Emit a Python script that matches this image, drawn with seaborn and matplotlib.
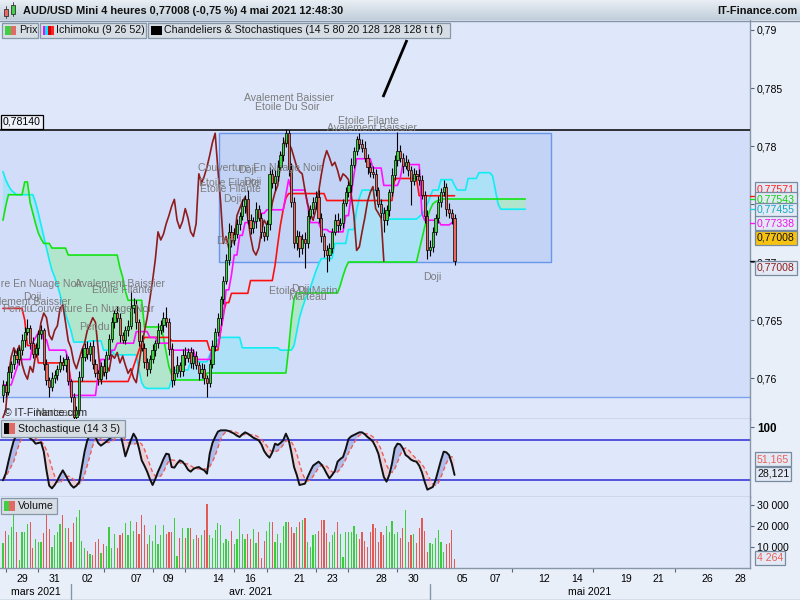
import numpy as np
import pandas as pd
import matplotlib
matplotlib.use("Agg")
import matplotlib.pyplot as plt
from matplotlib.patches import Rectangle
from matplotlib.colors import LinearSegmentedColormap
import seaborn as sns

# ---------------- data ----------------
first_candle_time = "2021-03-25 20:00"
first_open = 0.7585
closes = [0.7594, 0.7588, 0.7605, 0.7612, 0.7620, 0.7616, 0.7624, 0.7633, 0.7640, 0.7643,
          0.7630, 0.7621, 0.7626, 0.7638, 0.7641, 0.7612, 0.7598, 0.7592, 0.7600, 0.7603,
          0.7608, 0.7614, 0.7611, 0.7616, 0.7597, 0.7584, 0.7566, 0.7572, 0.7601, 0.7618,
          0.7626, 0.7621, 0.7628, 0.7612, 0.7604, 0.7599, 0.7610, 0.7605, 0.7620, 0.7634,
          0.7648, 0.7656, 0.7652, 0.7637, 0.7633, 0.7641, 0.7645, 0.7660, 0.7663, 0.7648,
          0.7632, 0.7626, 0.7614, 0.7608, 0.7616, 0.7624, 0.7630, 0.7641, 0.7646, 0.7652,
          0.7648, 0.7625, 0.7598, 0.7604, 0.7611, 0.7606, 0.7620, 0.7617, 0.7622, 0.7613,
          0.7619, 0.7611, 0.7604, 0.7608, 0.7600, 0.7596, 0.7612, 0.7628, 0.7640, 0.7652,
          0.7668, 0.7684, 0.7702, 0.7726, 0.7719, 0.7724, 0.7733, 0.7740, 0.7748, 0.7754,
          0.7736, 0.7729, 0.7735, 0.7746, 0.7738, 0.7726, 0.7722, 0.7733, 0.7776, 0.7768,
          0.7774, 0.7782, 0.7792, 0.7803, 0.7811, 0.7780, 0.7752, 0.7716, 0.7722, 0.7712,
          0.7720, 0.7716, 0.7740, 0.7746, 0.7752, 0.7756, 0.7738, 0.7722, 0.7710, 0.7706,
          0.7712, 0.7726, 0.7736, 0.7732, 0.7734, 0.7751, 0.7760, 0.7766, 0.7784, 0.7796,
          0.7806, 0.7802, 0.7798, 0.7790, 0.7782, 0.7778, 0.7776, 0.7762, 0.7750, 0.7742,
          0.7736, 0.7745, 0.7760, 0.7775, 0.7788, 0.7796, 0.7790, 0.7783, 0.7786, 0.7779,
          0.7770, 0.7776, 0.7774, 0.7771, 0.7758, 0.7740, 0.7710, 0.7713, 0.7726, 0.7738,
          0.7752, 0.7760, 0.7765, 0.7746, 0.7742, 0.7738, 0.77008]
upper_wick_pips = [4, 3, 5, 3, 4, 6, 3, 5, 4, 8, 3, 5, 4, 3, 5, 2, 4, 3, 5, 4,
                   3, 6, 4, 5, 3, 2, 3, 4, 5, 8, 4, 6, 3, 5, 4, 3, 4, 6, 3, 4,
                   5, 3, 6, 4, 3, 4, 5, 15, 6, 4, 3, 5, 4, 3, 4, 5, 3, 6, 4, 5,
                   9, 4, 5, 6, 8, 3, 5, 7, 4, 5, 6, 4, 3, 5, 4, 3, 4, 5, 3, 4,
                   3, 4, 5, 8, 6, 5, 4, 3, 6, 4, 8, 5, 4, 6, 3, 4, 5, 3, 6, 4,
                   5, 6, 4, 5, 4, 3, 5, 4, 6, 5, 4, 6, 5, 3, 4, 5, 6, 4, 3, 5,
                   4, 3, 5, 6, 4, 3, 5, 4, 6, 3, 3, 5, 4, 6, 3, 4, 5, 4, 3, 4,
                   5, 4, 3, 6, 4, 16, 5, 4, 6, 3, 4, 5, 3, 6, 4, 3, 5, 6, 4, 3,
                   5, 4, 6, 3, 5, 4, 3]
lower_wick_pips = [6, 4, 3, 5, 4, 3, 5, 4, 6, 3, 5, 4, 3, 6, 4, 5, 4, 8, 3, 4,
                   5, 3, 4, 6, 3, 5, 4, 6, 3, 4, 3, 5, 6, 4, 3, 5, 4, 3, 6, 4,
                   3, 5, 4, 6, 3, 4, 5, 3, 4, 6, 4, 3, 5, 6, 4, 3, 5, 4, 3, 6,
                   4, 5, 6, 4, 3, 5, 4, 6, 3, 4, 5, 3, 6, 4, 5, 12, 4, 3, 5, 4,
                   6, 4, 3, 5, 6, 4, 3, 5, 4, 6, 3, 5, 4, 6, 3, 5, 4, 3, 5, 4,
                   6, 4, 3, 5, 4, 6, 5, 4, 6, 8, 5, 21, 4, 3, 5, 6, 4, 5, 6, 15,
                   5, 4, 3, 6, 4, 5, 3, 4, 6, 3, 4, 5, 3, 4, 6, 5, 4, 5, 3, 4,
                   10, 4, 5, 3, 4, 5, 4, 6, 3, 5, 21, 4, 3, 5, 4, 6, 7, 5, 4, 3,
                   4, 5, 3, 6, 4, 5, 3]
volumes = [11800, 17600, 15700, 19700, 25300, 17000, 3800, 17000, 17000, 20800,
           22100, 9400, 13800, 12600, 12600, 16500, 25300, 18400, 10200, 15700,
           17300, 20800, 25300, 18900, 18900, 12600, 21300, 24500, 27700, 12900,
           9700, 8100, 6500, 6200, 12600, 13800, 7000, 11300, 10600, 19700,
           9400, 16100, 9400, 15700, 16500, 21300, 15700, 22400, 17600, 22100,
           16100, 25000, 20500, 11300, 15700, 12900, 20500, 11300, 15700, 20500,
           16100, 17000, 17000, 23700, 5900, 14200, 18900, 14500, 18900, 18900,
           13800, 15700, 14500, 15700, 18100, 30400, 15700, 14200, 18100, 21300,
           20500, 11800, 13800, 12900, 17600, 11300, 13800, 23400, 16100, 13800,
           16100, 13800, 18600, 11800, 17300, 4900, 12900, 17600, 22100, 21800,
           12600, 16100, 11800, 20200, 22100, 21800, 19700, 16500, 19700, 22100,
           22900, 24000, 12600, 10200, 15700, 16100, 17600, 22900, 22900, 16500,
           12200, 15700, 17000, 22100, 16100, 5400, 17300, 17300, 17300, 20200,
           16100, 13800, 17300, 12900, 10200, 17300, 20800, 18900, 12600, 17300,
           15700, 20200, 17300, 22400, 16100, 17300, 14200, 19200, 27700, 12600,
           15700, 16100, 11800, 19200, 24000, 17600, 7800, 11800, 11400, 14200,
           18100, 12600, 7800, 11400, 11800, 18100, 4264]
stoch_k = [20, 30, 48, 65, 80, 88, 92, 93, 91, 87, 83, 80, 75, 76, 77, 63, 35, 12, 8, 13,
           20, 28, 35, 28, 20, 13, 9, 12, 17, 40, 63, 80, 88, 90, 85, 76, 72, 75, 78, 82,
           85, 88, 92, 93, 75, 56, 68, 80, 90, 83, 68, 50, 42, 33, 22, 13, 22, 33, 42, 52,
           60, 59, 40, 39, 45, 50, 48, 43, 36, 33, 37, 39, 40, 37, 35, 30, 60, 76, 85, 93,
           95, 95, 95, 94, 92, 90, 87, 85, 89, 92, 90, 87, 84, 82, 80, 74, 64, 58, 54, 62,
           75, 73, 76, 80, 90, 81, 62, 40, 28, 13, 14, 15, 25, 34, 42, 45, 48, 44, 38, 30,
           23, 28, 34, 48, 52, 55, 67, 82, 86, 88, 90, 92, 92, 89, 85, 82, 78, 70, 60, 42,
           25, 18, 28, 45, 68, 75, 74, 68, 58, 55, 51, 49, 48, 42, 32, 18, 6, 8, 10, 20,
           35, 50, 63, 62, 57.704, 45, 28.121]
tenkan = ([0.7594] * 4 + [0.7601, 0.7608, 0.7615] + [0.7616] * 4 + [0.7631, 0.7635] + [0.7639] * 2
          + [0.7633] * 2 + [0.7624] * 7 + [0.7616] + [0.7585] * 10 + [0.7603] + [0.7616] * 4
          + [0.7624] * 2 + [0.7630] * 7 + [0.7640] * 5 + [0.7635] * 3 + [0.7630] * 5 + [0.7624] * 9
          + [0.7616] * 6 + [0.7627] * 3 + [0.7641, 0.7653] + [0.7676] * 2 + [0.7689] + [0.7706] * 2
          + [0.7723] * 2 + [0.7734] * 5 + [0.7742] * 3 + [0.7745] * 7 + [0.7758, 0.7771]
          + [0.7762] * 6 + [0.7749] + [0.7734] * 4 + [0.7728] * 3 + [0.7726] * 6 + [0.7740] * 2
          + [0.7758, 0.7775] + [0.7789] * 6 + [0.7781] * 4 + [0.7766] * 6 + [0.7772] + [0.7784] * 7
          + [0.7742] + [0.7736] * 6 + [0.7732] * 4 + [0.77338] * 2)
kijun = ([0.7660] * 8 + [0.7650] + [0.7628] * 4 + [0.7613] * 12 + [0.7597] * 22
         + [0.7603, 0.7610, 0.7617, 0.7624, 0.7630] + [0.7635] * 10 + [0.7632] * 14 + [0.7624] * 4
         + [0.7640, 0.7655] + [0.7665] * 2 + [0.7673] * 7 + [0.7684] * 9
         + [0.7697, 0.7715, 0.7732, 0.7745, 0.7755] + [0.7759] * 14 + [0.7753] * 25
         + [0.7772] * 9 + [0.77571] * 14)
span_a = ([0.7778, 0.7771, 0.7766, 0.7762, 0.7760] + [0.7758] * 7
          + [0.7751, 0.7742, 0.7732, 0.7722, 0.7712, 0.7702, 0.7693, 0.7687]
          + [0.7680, 0.7672, 0.7663, 0.7655, 0.7648, 0.7641] + [0.7631] * 6 + [0.7632] * 5
          + [0.7624] * 4 + [0.7620] * 9 + [0.7607, 0.7596, 0.7592] + [0.7591] * 9 + [0.7598, 0.7606]
          + [0.7607] * 5 + [0.7614] * 7 + [0.7620, 0.7625, 0.7630, 0.7633, 0.7635] + [0.7635] * 7
          + [0.7626] * 14 + [0.7624] * 5
          + [0.7628, 0.7640, 0.7652, 0.7660, 0.7667, 0.7673, 0.7678, 0.7685, 0.7692, 0.7698, 0.7703]
          + [0.7703] * 4 + [0.7716] * 5 + [0.7728] * 3 + [0.7745, 0.7755] + [0.7762] * 6
          + [0.7758, 0.7750, 0.7742] + [0.7737] * 12 + [0.7739, 0.7741, 0.7744, 0.7750, 0.7756]
          + [0.7762] * 3 + [0.7771] * 5 + [0.7766, 0.7762] + [0.7762] * 3 + [0.7772] * 4
          + [0.7777] * 5 + [0.7774, 0.7762, 0.7750] + [0.77455] * 10)
span_b = ([0.7736, 0.7748] + [0.7758] * 6 + [0.7769] * 2 + [0.7751, 0.7742, 0.7733, 0.7725, 0.7720]
          + [0.7716] * 3 + [0.7712] * 6 + [0.7706] * 19 + [0.7695, 0.7687, 0.7675] + [0.7667] * 6
          + [0.7644] * 7 + [0.7635, 0.7622, 0.7610, 0.7603, 0.7599] + [0.75983] * 11
          + [0.76043] * 30 + [0.7625, 0.7650, 0.7668] + [0.76733] * 16
          + [0.7680, 0.7688, 0.7695, 0.7700] + [0.7700] * 25
          + [0.7710, 0.7720, 0.7730, 0.7738, 0.7745, 0.7750, 0.7752, 0.7753] + [0.77543] * 32)

level_price = 0.78140
zone_low = 0.75836
range_box_slots = [79.5, 201.5]
range_box_prices = [0.77000, 0.78112]
trend_slots = [139.7, 148.5]
trend_prices = [0.78422, 0.78914]

label_days = ['2021-03-29', '2021-03-31', '2021-04-02', '2021-04-07', '2021-04-09', '2021-04-14',
              '2021-04-16', '2021-04-21', '2021-04-23', '2021-04-28', '2021-04-30', '2021-05-05',
              '2021-05-07', '2021-05-12', '2021-05-14', '2021-05-19', '2021-05-21', '2021-05-26',
              '2021-05-28']
tick_days = ['2021-03-26', '2021-03-30', '2021-04-05', '2021-04-08', '2021-04-12', '2021-04-15',
             '2021-04-19', '2021-04-22', '2021-04-26', '2021-04-29', '2021-05-10', '2021-05-17',
             '2021-05-24']
month_starts = ['2021-04-01', '2021-05-03']
month_names = ['mars 2021', 'avr. 2021', 'mai 2021']

patterns = [("Avalement Baissier", 105.2, 0.78414), ("Etoile Du Soir", 104.4, 0.78336),
            ("Etoile Filante", 134.2, 0.78216), ("Avalement Baissier", 135.7, 0.78155),
            ("Couverture En Nuage Noir", 94.5, 0.77810), ("Doji", 89.7, 0.77793),
            ("Etoile Filante", 83.1, 0.77681), ("Doji", 91.6, 0.77690),
            ("Etoile Filante", 83.5, 0.77629), ("Doji", 84.2, 0.77543),
            ("Doji", 81.6, 0.77181), ("Doji", 157.7, 0.76871),
            ("Etoile DuMatin", 110.3, 0.76750), ("Doji", 109.2, 0.76767),
            ("Marteau", 111.8, 0.76698), ("Couverture En Nuage Noir", 6.3, 0.76810),
            ("Avalement Baissier", 43.0, 0.76810), ("Etoile Filante", 44.1, 0.76759),
            ("Doji", 10.7, 0.76698), ("Avalement Baissier", 8.5, 0.76655),
            ("Pendu", 5.2, 0.76595), ("Couverture En Nuage Noir", 32.7, 0.76595),
            ("Pendu", 33.5, 0.76440), ("Marteau", 19.1, 0.75698)]

title = "AUD/USD Mini 4 heures 0,77008 (-0,75 %) 4 mai 2021 12:48:30"

# ---------------- setup ----------------
sns.set_theme(style="white")
plt.rcParams['font.family'] = ['Liberation Sans', 'DejaVu Sans']

W, H = 800, 600
PANEL_R = 750
X0, X1 = -1.088, 274.6
P_TOP, P_BOT = 0.790862, 0.756466
FS = 7.6

trading_days = pd.bdate_range('2021-03-25', '2021-06-04')
slots = [d + pd.Timedelta(hours=4 * k) for d in trading_days for k in range(6)]
slots = [s for s in slots if s >= pd.Timestamp(first_candle_time)]


def day_slot(day):
    return slots.index(pd.Timestamp(day))


def slot_px(s):
    return (s - X0) / (X1 - X0) * PANEL_R


def price_py(p):
    return 20 + (P_TOP - p) / (P_TOP - P_BOT) * 399


def axrect(x0, y0, x1, y1):
    return [x0 / W, 1 - y1 / H, (x1 - x0) / W, (y1 - y0) / H]


n = len(closes)
idx = np.arange(n)
c = np.array(closes)
o = np.array([first_open] + closes[:-1])
hi = np.maximum(o, c) + np.array(upper_wick_pips) * 1e-4
lo = np.minimum(o, c) - np.array(lower_wick_pips) * 1e-4
up = c >= o
GREEN, RED = '#3fd43f', '#e8685c'

fig = plt.figure(figsize=(8, 6), dpi=100)
fig.patch.set_facecolor('#e9eff9')
ax = fig.add_axes(axrect(0, 20, PANEL_R, 419))
axs = fig.add_axes(axrect(0, 419, PANEL_R, 497), sharex=ax)
axv = fig.add_axes(axrect(0, 497, PANEL_R, 568), sharex=ax)

for a in (ax, axs, axv):
    a.set_facecolor('#dfe8fb')
    for side in ('top', 'left'):
        a.spines[side].set_visible(False)
    for side in ('right', 'bottom'):
        a.spines[side].set_color('#8797a8')
        a.spines[side].set_linewidth(1)
    a.yaxis.tick_right()
    a.tick_params(axis='y', length=3, width=0.8, color='#55677a', pad=2, labelsize=FS, labelcolor='black')
    a.grid(False)

# ---------------- main panel ----------------
ax.set_xlim(X0, X1)
ax.set_ylim(P_BOT, P_TOP)
ax.add_patch(Rectangle((X0, zone_low), X1 - X0, level_price - zone_low, fc='#d1ddf9', ec='none', zorder=0.5))
ax.axhline(zone_low, color='#7ea3ec', lw=1, zorder=0.6)
ax.add_patch(Rectangle((range_box_slots[0], range_box_prices[0]), range_box_slots[1] - range_box_slots[0],
                       range_box_prices[1] - range_box_prices[0], fc='#c3d3f6', ec='#6a96ea', lw=1, zorder=0.7))

A = np.array(span_a)
B = np.array(span_b)
ia = np.arange(len(A))
ax.fill_between(ia, A, B, where=A >= B, interpolate=True, color='#ade1f7', lw=0, zorder=1)
ax.fill_between(ia, A, B, where=B > A, interpolate=True, color='#b2e6cc', lw=0, zorder=1)

sns.lineplot(x=ia, y=A, ax=ax, color='#10eef4', lw=1.2, zorder=2)
sns.lineplot(x=ia, y=B, ax=ax, color='#12e412', lw=1.2, zorder=2)
sns.lineplot(x=idx, y=np.array(kijun), ax=ax, color='#ff1010', lw=1.2, zorder=2.2)
sns.lineplot(x=idx, y=np.array(tenkan), ax=ax, color='#ff10ff', lw=1.2, zorder=2.3)
chikou = c[26:]
sns.lineplot(x=np.arange(len(chikou)), y=chikou, ax=ax, color='#8e1c1c', lw=1.2, zorder=2.4)

ax.axhline(level_price, color='black', lw=1.1, zorder=3)
ax.plot(trend_slots, trend_prices, color='black', lw=2, zorder=3, solid_capstyle='butt')

ax.vlines(idx, lo, hi, color='black', lw=0.8, zorder=4)
body = np.maximum(np.abs(c - o), 0.00002)
ax.bar(idx, body, bottom=np.minimum(o, c), width=0.8, color=np.where(up, GREEN, RED),
       edgecolor='black', linewidth=0.5, zorder=5)

for txt, s, p in patterns:
    ax.text(s, p, txt, ha='center', va='center', color='#7c7c7c', fontsize=7.6, zorder=6, clip_on=True)
ax.text(0.2, 0.75698, "\u00a9 IT-Finance.com", ha='left', va='center', color='#2a2a2a',
        fontsize=7.6, zorder=6)

ax.set_yticks([0.76, 0.765, 0.77, 0.775, 0.78, 0.785, 0.79])
ax.set_yticklabels(['0,76', '0,765', '0,77', '0,775', '0,78', '0,785', '0,79'])
ax.tick_params(axis='x', length=0, labelbottom=False, which='both')
ax.set_xlabel('')
ax.set_ylabel('')

# ---------------- stochastic ----------------
K = pd.Series(stoch_k, dtype=float)
D = K.rolling(5, min_periods=1).mean()
axs.set_ylim(-5, 112)
axs.fill_between(idx, K, D, where=K >= D, interpolate=True, color='#b1bbe9', lw=0, zorder=1)
axs.fill_between(idx, K, D, where=K < D, interpolate=True, color='#ebd0da', lw=0, zorder=1)
axs.axhline(80, color='#2a2ad6', lw=1.1, zorder=1.5)
axs.axhline(20, color='#2a2ad6', lw=1.1, zorder=1.5)
sns.lineplot(x=idx, y=D.values, ax=axs, color='#e8605a', lw=1.0, zorder=2)
axs.lines[-1].set_dashes([3, 2])
sns.lineplot(x=idx, y=K.values, ax=axs, color='#111111', lw=1.4, zorder=3)
axs.set_yticks([100])
axs.set_yticklabels(['100'])
for t in axs.get_yticklabels():
    t.set_fontweight('bold')
    t.set_fontsize(8.4)
axs.tick_params(axis='x', length=0, labelbottom=False, which='both')
axs.set_xlabel('')
axs.set_ylabel('')

# ---------------- volume ----------------
axv.set_ylim(0, 33800)
axv.bar(idx, volumes, width=0.45, color=np.where(up, '#3ccc3c', '#e25a52'), lw=0, zorder=2)
axv.set_yticks([10000, 20000, 30000])
axv.set_yticklabels(['10 000', '20 000', '30 000'])
axv.set_xlim(X0, X1)
major = [day_slot(d) for d in label_days]
axv.set_xticks(major)
axv.set_xticklabels([pd.Timestamp(d).strftime('%d') for d in label_days])
axv.set_xticks([day_slot(d) for d in tick_days], minor=True)
axv.tick_params(axis='x', which='major', length=0, pad=4.5, labelsize=FS, labelcolor='black')
axv.tick_params(axis='x', which='minor', length=3, width=0.8, color='#55677a', bottom=True)
axv.set_xlabel('')
axv.set_ylabel('')

# ---------------- overlay (header, legend, value boxes) ----------------
ov = fig.add_axes([0, 0, 1, 1], zorder=10)
ov.patch.set_alpha(0)
ov.axis('off')
grad = LinearSegmentedColormap.from_list('hdr', ['#e8eef4', '#c2cfdb'])
ov.imshow(np.linspace(0, 1, 20).reshape(-1, 1), extent=(0, W, 20, 0), cmap=grad, aspect='auto', zorder=1)
ov.set_xlim(0, W)
ov.set_ylim(H, 0)
ov.plot([0, W], [20.5, 20.5], color='#8595a6', lw=1, zorder=2)
# header icon
ov.add_patch(Rectangle((4, 9), 4, 7, fc='#e86a60', ec='#333333', lw=0.6, zorder=3))
ov.plot([6, 6], [6, 18], color='#333333', lw=0.6, zorder=2.9)
ov.add_patch(Rectangle((11, 5), 4, 9, fc='#44d044', ec='#333333', lw=0.6, zorder=3))
ov.plot([13, 13], [2, 16], color='#333333', lw=0.6, zorder=2.9)
ov.text(23, 11, title, fontsize=7.9, fontweight='bold', va='center', ha='left', color='#111111', zorder=3)
ov.text(797, 11, "IT-Finance.com", fontsize=7.9, fontweight='bold', va='center', ha='right',
        color='#111111', zorder=3)


def legend_box(x0, x1, y0, y1, swatch, text):
    ov.add_patch(Rectangle((x0, y0), x1 - x0, y1 - y0, fc='#d6dde4', ec='#8797a8', lw=0.9, zorder=3))
    sw = len(swatch)
    wsw = 11.0 / sw
    for k, col in enumerate(swatch):
        ov.add_patch(Rectangle((x0 + 3 + k * wsw, y0 + 3), wsw, (y1 - y0) - 6, fc=col, ec='none', zorder=4))
    ov.text(x0 + 17, (y0 + y1) / 2, text, fontsize=7.7, va='center', ha='left', color='#111111', zorder=4)


legend_box(2, 38, 22.5, 37.5, ['#44cc44', '#e06a66'], "Prix")
legend_box(39.5, 146, 22.5, 37.5, ['#ff00ff', '#00e8ff', '#d00000', '#ff2020'], "Ichimoku (9 26 52)")
legend_box(147.5, 450, 22.5, 37.5, ['#000000'], "Chandeliers & Stochastiques (14 5 80 20 128 128 128 t t f)")
legend_box(0.5, 125, 420, 437, ['#000000', '#e06a66'], "Stochastique (14 3 5)")
legend_box(0.5, 57, 498, 514, ['#44cc44', '#e06a66'], "Volume")

# level tag on the left
ov.text(3, price_py(level_price) - 8, f"{level_price:.5f}".replace('.', ','), fontsize=FS, va='center',
        ha='left', color='black', zorder=5,
        bbox=dict(boxstyle='square,pad=0.2', fc='#eef2fa', ec='black', lw=0.9))


def fmt(v, nd=5):
    return f"{v:.{nd}f}".replace('.', ',')


def vbox(y, text, color, fc='#e4eaf5'):
    ov.text(757, y, text, fontsize=FS, va='center', ha='left', color=color, zorder=20,
            bbox=dict(boxstyle='square,pad=0.2', fc=fc, ec='#768aa0', lw=0.9))


# little coloured dashes on the price axis
for val, col in [(kijun[-1], '#ff1010'), (span_b[-1], '#12e412'), (span_a[-1], '#10d8e8'),
                 (tenkan[-1], '#ff10ff'), (closes[-1], '#111111')]:
    yy = price_py(val)
    ov.plot([750, 755], [yy, yy], color=col, lw=1, zorder=15)

vbox(189, fmt(kijun[-1]), '#ff2020')
vbox(199, fmt(span_b[-1]), '#10d010')
vbox(210, fmt(span_a[-1]), '#10a8c0')
vbox(223, fmt(tenkan[-1]), '#ee10ee')
vbox(238, fmt(closes[-1]), '#111111', fc='#f7c313')
vbox(268, fmt(closes[-1]), '#8e1c1c')
vbox(459, fmt(D.iloc[-1], 3), '#e8605a')
vbox(474, fmt(K.iloc[-1], 3), '#111111')
vbox(558, f"{volumes[-1]:,}".replace(',', ' '), '#e8605a')

# month row
seps = [slot_px(day_slot(d)) for d in month_starts]
bounds = [0] + seps + [PANEL_R]
for k, name in enumerate(month_names):
    ov.text((bounds[k] + bounds[k + 1]) / 2, 592, name, fontsize=FS, ha='center', va='center',
            color='black', zorder=5)
for sx in seps:
    ov.plot([sx, sx], [584, 599], color='#8595a6', lw=1, zorder=5)
ov.plot([0, W], [599.5, 599.5], color='#8595a6', lw=1, zorder=5)

fig.savefig('out.png', dpi=100)
